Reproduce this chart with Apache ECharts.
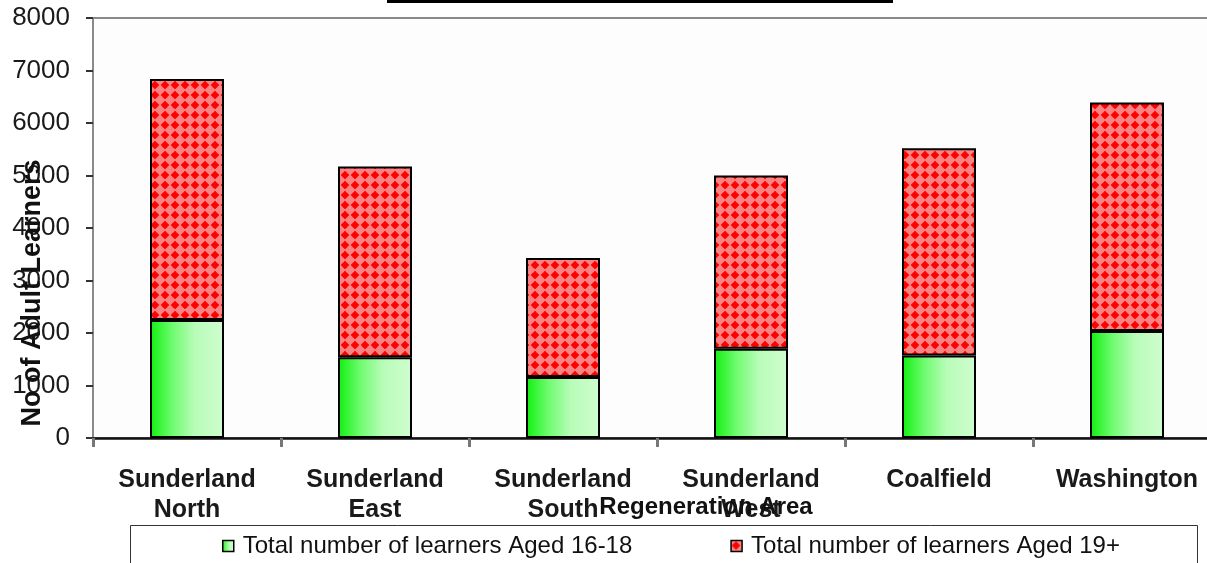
<!DOCTYPE html>
<html>
<head>
<meta charset="utf-8">
<title>Learners by Regeneration Area</title>
<script src="https://cdn.jsdelivr.net/npm/echarts@6/dist/echarts.min.js"></script>
<style>
  html, body { margin: 0; padding: 0; background: #ffffff; }
  #chart { width: 1207px; height: 563px; }
</style>
</head>
<body>
<div id="chart"></div>
<script>
// Regeneration areas (x categories)
const categories = [
  'Sunderland\nNorth',
  'Sunderland\nEast',
  'Sunderland\nSouth',
  'Sunderland\nWest',
  'Coalfield',
  'Washington'
];
// Learners aged 16-18 (lower stack)
const aged1618 = [2250, 1540, 1160, 1700, 1570, 2040];
// Learners aged 19+ (upper stack)
const aged19plus = [4590, 3630, 2270, 3300, 3950, 4350];
// Value axis ticks
const yMin = 0;
const yMax = 8000;
const yStep = 1000;

const seriesNames = [
  'Total number of learners Aged 16-18',
  'Total number of learners Aged 19+'
];

const FONT = '"Liberation Sans", Arial, Helvetica, sans-serif';

// Dotted red fill: light red ground with bright red dots
function makeDotPattern() {
  const c = document.createElement('canvas');
  c.width = 10; c.height = 10;
  const g = c.getContext('2d');
  g.fillStyle = '#ff8282';
  g.fillRect(0, 0, 10, 10);
  g.fillStyle = '#ff0000';
  g.beginPath();
  g.arc(5, 5, 3.1, 0, Math.PI * 2);
  g.fill();
  g.fillRect(4, 1.2, 2, 7.6);
  g.fillRect(1.2, 4, 7.6, 2);
  return c;
}

const greenFill = {
  type: 'linear', x: 0, y: 0, x2: 1, y2: 0,
  colorStops: [
    { offset: 0, color: '#0ff00f' },
    { offset: 0.3, color: '#6efb6e' },
    { offset: 0.6, color: '#b8fcb8' },
    { offset: 1, color: '#cffdcf' }
  ]
};
const redFill = { image: makeDotPattern(), repeat: 'repeat' };

const chart = echarts.init(document.getElementById('chart'), null, { renderer: 'canvas' });

chart.setOption({
  backgroundColor: '#ffffff',
  animation: false,
  grid: {
    left: 93,
    top: 18,
    width: 1128,
    bottom: 125,
    outerBoundsMode: 'none',
    containLabel: false,
    show: true,
    backgroundColor: '#fdfdfd',
    borderColor: '#8a8a8a',
    borderWidth: 2
  },
  legend: {
    left: 217,
    top: 529,
    itemWidth: 11,
    itemHeight: 11,
    itemGap: 98,
    icon: 'rect',
    itemStyle: { borderColor: '#000000', borderWidth: 1.5 },
    textStyle: {
      fontFamily: FONT,
      fontSize: 24,
      lineHeight: 24,
      color: '#111111',
      padding: [0, 0, 0, 4]
    },
    data: seriesNames
  },
  xAxis: {
    type: 'category',
    data: categories,
    axisLine: { lineStyle: { color: '#111111', width: 2.5 } },
    axisTick: {
      show: true,
      alignWithLabel: false,
      length: 9,
      lineStyle: { color: '#777777', width: 3 }
    },
    axisLabel: {
      interval: 0,
      margin: 27,
      fontFamily: FONT,
      fontSize: 25,
      fontWeight: 'bold',
      lineHeight: 30,
      color: '#1a1a1a'
    },
    splitLine: { show: false }
  },
  yAxis: {
    type: 'value',
    min: yMin,
    max: yMax,
    interval: yStep,
    axisLine: { show: true, lineStyle: { color: '#8a8a8a', width: 2 } },
    axisTick: { show: true, length: 7, lineStyle: { color: '#333333', width: 2 } },
    axisLabel: {
      margin: 23,
      fontFamily: FONT,
      fontSize: 26,
      color: '#1a1a1a',
      padding: [6, 0, 0, 0],
      formatter: (v) => String(v)
    },
    splitLine: { show: false }
  },
  series: [
    {
      name: seriesNames[0],
      type: 'bar',
      stack: 'learners',
      barWidth: 74,
      data: aged1618,
      itemStyle: { color: greenFill, borderColor: '#000000', borderWidth: 2 }
    },
    {
      name: seriesNames[1],
      type: 'bar',
      stack: 'learners',
      barWidth: 74,
      data: aged19plus,
      itemStyle: { color: redFill, borderColor: '#000000', borderWidth: 2 }
    }
  ],
  graphic: [
    // title underline, cut by the top edge
    {
      type: 'rect',
      shape: { x: 387, y: 0, width: 506, height: 3 },
      style: { fill: '#000000' },
      silent: true
    },
    // legend frame
    {
      type: 'rect',
      z: -1,
      shape: { x: 130.5, y: 525.5, width: 1067, height: 60 },
      style: { fill: '#ffffff', stroke: '#333333', lineWidth: 1 },
      silent: true
    },
    // value axis title
    {
      type: 'text',
      x: 33,
      y: 293,
      rotation: Math.PI / 2,
      z: 10,
      style: {
        text: 'No of Adult Learners',
        x: 0, y: 0,
        align: 'center',
        verticalAlign: 'middle',
        font: 'bold 27px ' + FONT,
        fill: '#111111'
      },
      silent: true
    },
    // category axis title
    {
      type: 'text',
      x: 706,
      y: 507,
      z: 10,
      style: {
        text: 'Regeneration Area',
        x: 0, y: 0,
        align: 'center',
        verticalAlign: 'middle',
        font: 'bold 24px ' + FONT,
        fill: '#111111'
      },
      silent: true
    }
  ]
});
</script>
</body>
</html>
